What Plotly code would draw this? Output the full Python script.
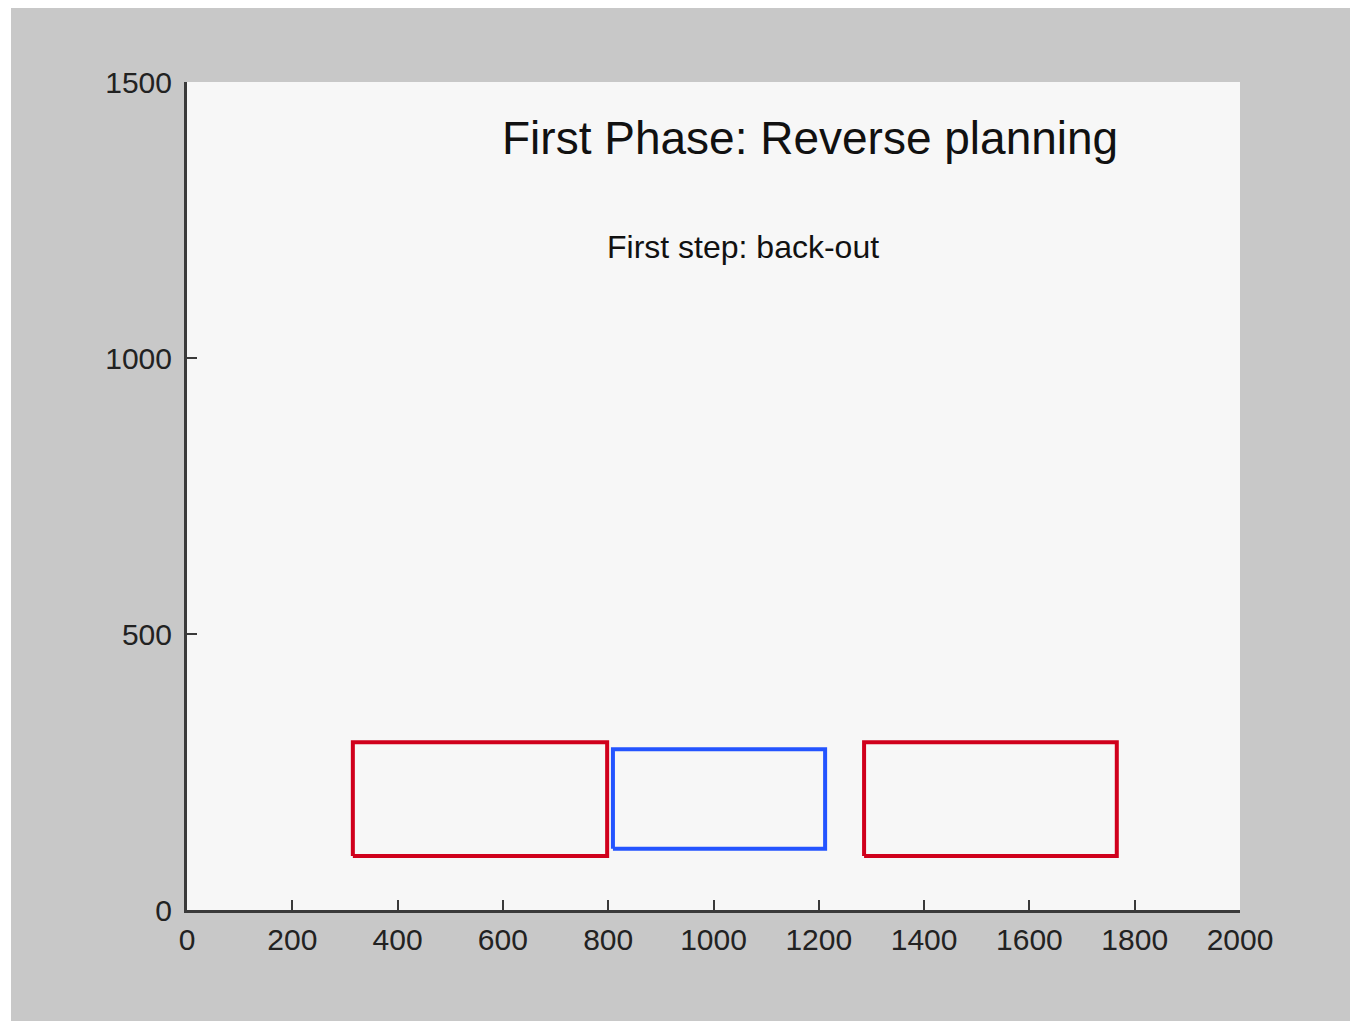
import plotly.graph_objects as go

# Data
rect_names = ["left", "middle", "right"]
rect_x0 = [315, 809, 1286]
rect_x1 = [798, 1212, 1766]
rect_y0 = [98, 111, 98]
rect_y1 = [304, 291, 304]
rect_colors = ["#d0001c", "#2454ff", "#d0001c"]

x_ticks = [0, 200, 400, 600, 800, 1000, 1200, 1400, 1600, 1800, 2000]
y_ticks = [0, 500, 1000, 1500]

title_text = "First Phase: Reverse planning"
subtitle_text = "First step: back-out"

fig = go.Figure()
for name, x0, x1, y0, y1, c in zip(rect_names, rect_x0, rect_x1, rect_y0, rect_y1, rect_colors):
    fig.add_trace(go.Scatter(
        x=[x0, x1, x1, x0, x0], y=[y0, y0, y1, y1, y0],
        mode="lines", line=dict(color=c, width=4), name=name,
        showlegend=False, hoverinfo="skip"))

fig.add_annotation(x=1183, y=1398, text=title_text, showarrow=False,
                   font=dict(family="Liberation Sans, Arial", size=46, color="#111111"))
fig.add_annotation(x=1056, y=1201, text=subtitle_text, showarrow=False,
                   font=dict(family="Liberation Sans, Arial", size=32, color="#111111"))

axis_common = dict(showgrid=False, zeroline=False, showline=True,
                   linecolor="#3a3a3a", linewidth=3, ticks="inside", ticklen=10,
                   tickwidth=2, tickcolor="#3a3a3a",
                   tickfont=dict(family="Liberation Sans, Arial", size=30, color="#222222"))

fig.update_xaxes(range=[0, 2000], tickvals=x_ticks, ticktext=[str(v) for v in x_ticks],
                 ticklabelstandoff=1, **axis_common)
fig.update_yaxes(range=[0, 1500], tickvals=y_ticks, ticktext=[str(v) for v in y_ticks],
                 ticklabelstandoff=6, **axis_common)

fig.update_layout(
    width=1350, height=1013,
    margin=dict(l=179, r=118, t=74, b=111),
    paper_bgcolor="#c8c8c8", plot_bgcolor="#f7f7f7",
    showlegend=False,
)

# left white strip of the frame
fig.add_shape(type="rect", xref="paper", yref="paper", layer="below",
              x0=-179/1053, x1=-176/1053, y0=-2, y1=2, line=dict(width=0), fillcolor="white")

fig.write_html("out.html")
